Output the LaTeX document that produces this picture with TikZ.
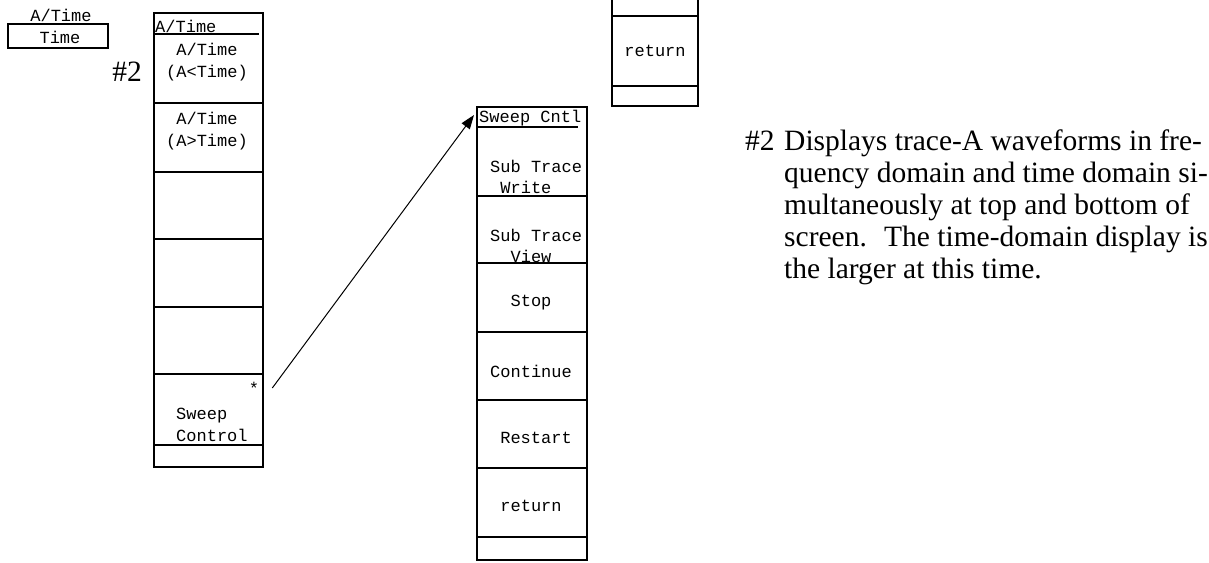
\documentclass[tikz,border=0pt]{standalone}
\usepackage{fontspec}
\setmainfont{Liberation Serif}
\setmonofont{Liberation Mono}
\usetikzlibrary{arrows.meta,positioning}

\begin{document}
\begin{tikzpicture}[x=1pt,y=-1pt,
  key/.style={font=\ttfamily\fontsize{17}{21.5}\selectfont,align=center,inner sep=0pt},
  keyl/.style={key,align=left,anchor=west},
  frame/.style={line width=1.1pt},
  sep/.style={line width=1.6pt},
  arr/.style={-{Triangle[length=14pt,width=10pt]},line width=1pt},
  txt/.style={font=\fontsize{29.5}{32}\selectfont,inner sep=0pt}]
\useasboundingbox (0,0) rectangle (1209,562);
% soft key label
\node[key] (softlbl) at (61,15) {A/Time};
\draw[frame] (8,24) rectangle (108,48);
\node[key] (soft) at (60,37) {Time};
% A/Time menu
\draw[frame] (154,13) rectangle (263,467);
\node[keyl] (atitle) at (155,26) {A/Time};
\draw[sep] (154,34) -- (259,34);
\foreach \y in {103,172,239,307,374,445} \draw[sep] (154,\y) -- (263,\y);
\node[key] (alt) at (207,62) {A/Time\\(A<Time)};
\node[key] (agt) at (207,131) {A/Time\\(A>Time)};
\node[key] (star) at (254,388) {*};
\node[keyl] (swctl) at (176,425) {Sweep\\Control};
\node[txt,anchor=east] (mark) at (142,72) {\#2};
% Sweep Cntl menu
\draw[frame] (477,107) rectangle (587,560);
\node[keyl] (swtitle) at (479,118) {Sweep Cntl};
\draw[sep] (477,127) -- (578,127);
\foreach \y in {196,263,332,400,468,537} \draw[sep] (477,\y) -- (587,\y);
\node[keyl] (sub1) at (490,177) {Sub Trace\\\phantom{x}Write};
\node[keyl] (sub2) at (490,246) {Sub Trace\\\phantom{xx}View};
\node[key] (stop) at (531,303) {Stop};
\node[key] (cont) at (531,371) {Continue};
\node[key] (rest) at (536,438) {Restart};
\node[key] (ret) at (531,506) {return};
\draw[arr] ([xshift=13pt]star.east) -- ([xshift=-5pt,yshift=3pt]swtitle.west);
% upper menu end
\draw[frame] (612,0) -- (612,106) -- (698,106) -- (698,0);
\draw[sep] (612,16) -- (698,16);
\draw[sep] (612,86) -- (698,86);
\node[key] (ret2) at (655,51) {return};
% note
\node[txt,anchor=base west] (num) at (745,150) {\#2};
\node[txt,anchor=north west,align=left] (desc) at (784,130) {Displays trace-A waveforms in fre-\\quency domain and time domain si-\\multaneously at top and bottom of\\screen.~ The time-domain display is\\the larger at this time.};
\end{tikzpicture}
\end{document}
